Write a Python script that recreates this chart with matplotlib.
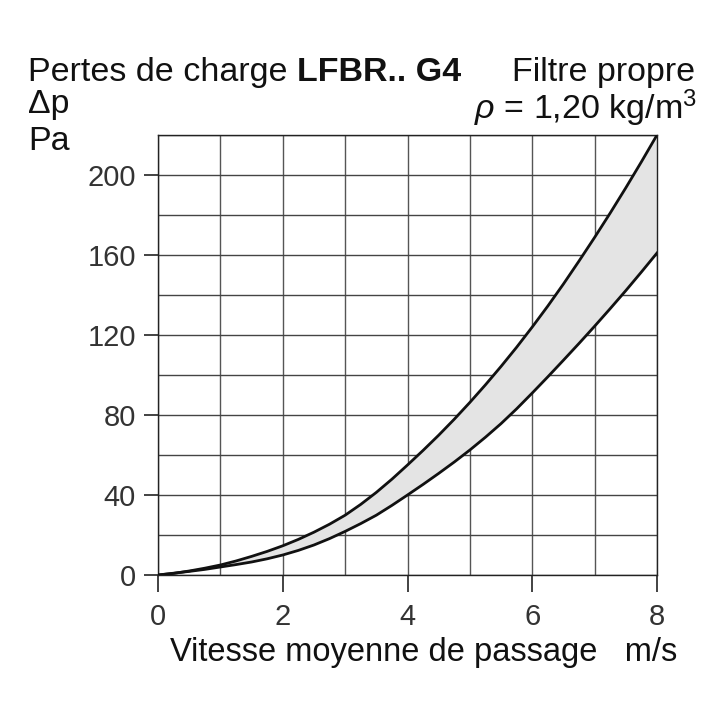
import matplotlib
matplotlib.use("Agg")
import matplotlib.pyplot as plt

# Data
velocity = [0, 0.25, 0.5, 0.75, 1, 1.25, 1.5, 1.75, 2, 2.25, 2.5, 2.75, 3, 3.25, 3.5, 3.75,
            4, 4.25, 4.5, 4.75, 5, 5.25, 5.5, 5.75, 6, 6.25, 6.5, 6.75, 7, 7.25, 7.5, 7.75, 8]
dp_upper = [0, 0.8, 2.0, 3.4, 5.0, 7.0, 9.3, 11.8, 14.6, 17.8, 21.4, 25.4, 29.9, 35.3, 41.3, 47.9,
            55.0, 62.3, 69.9, 77.9, 86.3, 95.1, 104.3, 113.9, 124.0, 134.5, 145.5, 157.0, 168.8,
            181.0, 193.6, 206.6, 220]
dp_lower = [0, 0.9, 1.8, 2.8, 4.0, 5.2, 6.5, 8.1, 10.0, 12.3, 15.0, 18.2, 21.8, 25.7, 29.9, 34.8,
            40.0, 45.3, 50.8, 56.5, 62.5, 68.9, 75.7, 83.1, 91.0, 99.1, 107.4, 115.8, 124.4,
            133.2, 142.2, 151.5, 161]
x_ticks = [0, 2, 4, 6, 8]
y_ticks = [0, 40, 80, 120, 160, 200]

plt.rcParams['font.family'] = ['Liberation Sans', 'DejaVu Sans']
plt.rcParams['mathtext.fontset'] = 'custom'
plt.rcParams['mathtext.rm'] = 'Liberation Sans'
plt.rcParams['mathtext.it'] = 'Liberation Sans:italic'

fig = plt.figure(figsize=(7.2, 7.2), dpi=100)
ax = fig.add_axes([158/720, 1-575/720, (657-158)/720, (575-135)/720])

ax.set_xlim(0, 8)
ax.set_ylim(0, 220)

for xv in range(0, 9):
    ax.axvline(xv, color='#555555', lw=1.0, zorder=1)
for yv in range(0, 221, 20):
    ax.axhline(yv, color='#444444', lw=1.0, zorder=1)

ax.fill_between(velocity, dp_lower, dp_upper, color='#e4e4e4', zorder=2, lw=0)
ax.plot(velocity, dp_upper, color='#111111', lw=2.0, zorder=3, solid_joinstyle='round')
ax.plot(velocity, dp_lower, color='#111111', lw=2.0, zorder=3, solid_joinstyle='round')

for s in ax.spines.values():
    s.set_color('#222222')
    s.set_linewidth(1.0)

ax.set_xticks(x_ticks)
ax.set_yticks(y_ticks)
ax.tick_params(axis='x', direction='out', length=12, width=1.2, color='#222222',
               labelsize=21, labelcolor='#333333', pad=8)
ax.tick_params(axis='y', direction='out', length=10, width=1.2, color='#222222',
               labelsize=21, labelcolor='#333333', pad=6)

fig.text(677/720, 1-652/720, 'Vitesse moyenne de passage   m/s', ha='right', va='center',
         fontsize=23.5, color='#111111')

fs = 24.5
t1 = fig.text(28/720, 1-81/720, 'Pertes de charge ', ha='left', va='baseline',
              fontsize=fs, color='#111111')
ax.annotate('LFBR.. G4', xy=(1, 0), xycoords=t1, xytext=(0, 0), textcoords='offset points',
            ha='left', va='bottom', fontsize=fs, fontweight='bold', color='#111111',
            annotation_clip=False)
fig.text(28/720, 1-105/720, 'Δp', ha='left', va='center', fontsize=fs, color='#111111')
fig.text(28/720, 1-141/720, 'Pa', ha='left', va='center', fontsize=fs, color='#111111')
fig.text(695/720, 1-81/720, 'Filtre propre', ha='right', va='baseline', fontsize=fs, color='#111111')
fig.text(697/720, 1-119/720, '$\\mathit{\\rho}$ = 1,20 kg/m$^3$', ha='right', va='baseline',
         fontsize=fs, color='#111111')

fig.savefig('out.png', dpi=100, facecolor='white')
